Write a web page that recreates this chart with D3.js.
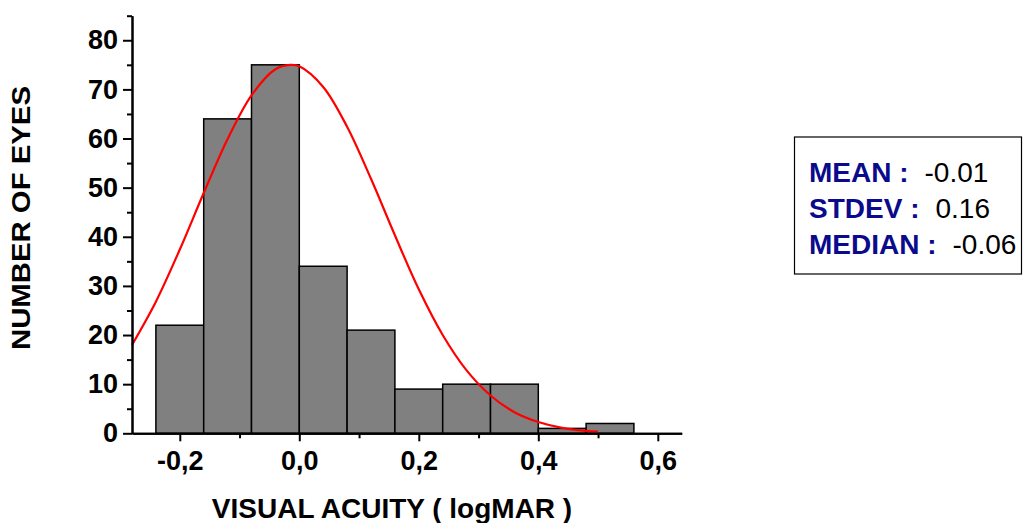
<!DOCTYPE html>
<html>
<head>
<meta charset="utf-8">
<script src="https://cdn.jsdelivr.net/npm/d3@7"></script>
<style>
  body { margin: 0; background: #fff; }
  text { font-family: "Liberation Sans", Arial, sans-serif; }
</style>
</head>
<body>
<div id="chart"></div>
<script>
// histogram bins (logMAR) and counts
var binEdges = [-0.24, -0.16, -0.08, 0.0, 0.08, 0.16, 0.24, 0.32, 0.40, 0.48, 0.56]
var counts = [22, 64, 75, 34, 21, 9, 10, 10, 1, 2]

// fitted normal curve
var curveX = [-0.28, -0.24, -0.20, -0.16, -0.12, -0.08, -0.04, -0.015, 0.0, 0.04, 0.08, 0.12, 0.16, 0.20, 0.24, 0.28, 0.32, 0.36, 0.40, 0.44, 0.48, 0.50]
var curveY = [18.0, 26.8, 37.4, 48.9, 59.9, 68.8, 74.1, 75.0, 74.7, 70.5, 62.4, 51.8, 40.3, 29.3, 20.0, 12.8, 7.7, 4.3, 2.3, 1.1, 0.5, 0.34]

var xTicks = [-0.2, 0.0, 0.2, 0.4, 0.6]
var xMinor = [-0.1, 0.1, 0.3, 0.5]
var yTicks = [0, 10, 20, 30, 40, 50, 60, 70, 80]
var yMinor = [5, 15, 25, 35, 45, 55, 65, 75, 85]

var statLabels = ["MEAN :", "STDEV :", "MEDIAN :"]
var statValues = ["-0.01", "0.16", "-0.06"]

var width = 1024, height = 523

var svg = d3.select("#chart")
  .append("svg")
    .attr("width", width)
    .attr("height", height)

var x = d3.scaleLinear()
  .domain([-0.28, 0.64])
  .range([132, 681.7])

var y = d3.scaleLinear()
  .domain([0, 85])
  .range([433.3, 15.7])

// bars
svg.append("g")
  .selectAll("rect")
  .data(counts)
  .enter()
  .append("rect")
    .attr("x", function(d, i) { return x(binEdges[i]) })
    .attr("y", function(d) { return y(d) })
    .attr("width", function(d, i) { return x(binEdges[i + 1]) - x(binEdges[i]) })
    .attr("height", function(d) { return y(0) - y(d) })
    .style("fill", "#808080")
    .style("stroke", "#000")
    .style("stroke-width", 1.5)

// normal curve
var line = d3.line()
  .x(function(d) { return x(d[0]) })
  .y(function(d) { return y(d[1]) })
  .curve(d3.curveCatmullRom)

svg.append("path")
  .datum(curveX.map(function(v, i) { return [v, curveY[i]] }))
  .attr("d", line)
  .style("fill", "none")
  .style("stroke", "#ff0000")
  .style("stroke-width", 2.2)

var fmt = function(d) { return d3.format(".1f")(d).replace(".", ",").replace("−", "-") }

// x axis
svg.append("g")
  .attr("transform", "translate(0," + y(0) + ")")
  .call(d3.axisBottom(x).tickValues(xTicks).tickSize(8).tickSizeOuter(0).tickPadding(10).tickFormat(fmt))
svg.append("g")
  .attr("transform", "translate(0," + y(0) + ")")
  .call(d3.axisBottom(x).tickValues(xMinor).tickSize(5).tickSizeOuter(0).tickFormat(""))

// y axis
svg.append("g")
  .attr("transform", "translate(" + x(-0.28) + ",0)")
  .call(d3.axisLeft(y).tickValues(yTicks).tickSize(9).tickSizeOuter(0).tickPadding(5))
svg.append("g")
  .attr("transform", "translate(" + x(-0.28) + ",0)")
  .call(d3.axisLeft(y).tickValues(yMinor).tickSize(5).tickSizeOuter(0).tickFormat(""))

svg.selectAll(".domain").style("stroke", "#000").style("stroke-width", 2)
svg.selectAll(".tick line").style("stroke", "#000").style("stroke-width", 2)
svg.selectAll(".tick text")
  .style("font-family", "'Liberation Sans', Arial, sans-serif")
  .style("font-size", "27px")
  .style("font-weight", "bold")
  .style("fill", "#000")

// axis titles
svg.append("text")
  .attr("x", 392)
  .attr("y", 518)
  .attr("text-anchor", "middle")
  .style("font-size", "28px")
  .style("font-weight", "bold")
  .text("VISUAL ACUITY ( logMAR )")

svg.append("text")
  .attr("transform", "translate(30,218) rotate(-90)")
  .attr("text-anchor", "middle")
  .attr("textLength", 264)
  .attr("lengthAdjust", "spacingAndGlyphs")
  .style("font-size", "26px")
  .style("font-weight", "bold")
  .text("NUMBER OF EYES")

// stats box
svg.append("rect")
  .attr("x", 794.5)
  .attr("y", 137)
  .attr("width", 227)
  .attr("height", 137)
  .style("fill", "#fff")
  .style("stroke", "#000")
  .style("stroke-width", 1.2)

var stat = svg.append("g")
  .selectAll("text")
  .data(statLabels)
  .enter()
  .append("text")
    .attr("x", 809)
    .attr("y", function(d, i) { return 182 + i * 36 })
    .style("font-size", "28px")
stat.append("tspan")
  .style("font-weight", "bold")
  .style("fill", "#0a0a8c")
  .text(function(d) { return d })
stat.append("tspan")
  .attr("dx", 16)
  .style("fill", "#000")
  .text(function(d, i) { return statValues[i] })
</script>
</body>
</html>
